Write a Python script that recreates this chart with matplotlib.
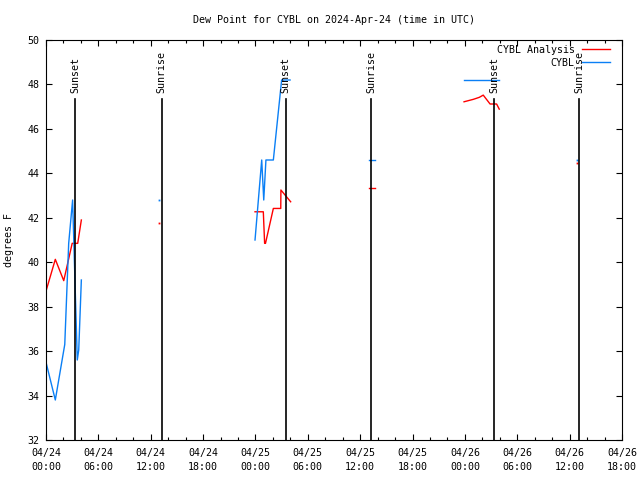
import numpy as np
import pandas as pd
import matplotlib
matplotlib.use("Agg")
import matplotlib.pyplot as plt
import matplotlib.dates as mdates
from matplotlib.lines import Line2D

#--- data (UTC)
analysis_times = ["2024-04-24 00:00", "2024-04-24 01:04", "2024-04-24 02:02", "2024-04-24 03:00",
                  "2024-04-24 03:38", "2024-04-24 04:03",
                  "2024-04-24 13:00",
                  "2024-04-24 23:57", "2024-04-25 00:54", "2024-04-25 01:03", "2024-04-25 01:09",
                  "2024-04-25 02:03", "2024-04-25 02:54", "2024-04-25 02:55", "2024-04-25 04:02",
                  "2024-04-25 13:00", "2024-04-25 13:45",
                  "2024-04-25 23:54", "2024-04-26 00:58", "2024-04-26 01:39", "2024-04-26 02:06",
                  "2024-04-26 02:53", "2024-04-26 03:38", "2024-04-26 03:56",
                  "2024-04-26 12:53"]
analysis_vals = [38.7, 40.13, 39.17, 40.85, 40.85, 41.9,
                 41.78,
                 42.27, 42.27, 40.85, 40.85, 42.42, 42.42, 43.25, 42.72,
                 43.33, 43.33,
                 47.22, 47.33, 47.42, 47.52, 47.12, 47.12, 46.89,
                 44.45]

obs_times = ["2024-04-24 00:00", "2024-04-24 01:04", "2024-04-24 02:09", "2024-04-24 02:36",
             "2024-04-24 03:03", "2024-04-24 03:35", "2024-04-24 03:45", "2024-04-24 04:03",
             "2024-04-24 13:00",
             "2024-04-24 23:57", "2024-04-25 00:43", "2024-04-25 00:57", "2024-04-25 01:12",
             "2024-04-25 02:03", "2024-04-25 03:00", "2024-04-25 03:58",
             "2024-04-25 13:00", "2024-04-25 13:45",
             "2024-04-25 23:54", "2024-04-26 03:56",
             "2024-04-26 12:53"]
obs_vals = [35.5, 33.8, 36.3, 40.85, 42.8, 35.6, 36.05, 39.2,
            42.8,
            41.0, 44.6, 42.8, 44.6, 44.6, 48.2, 48.2,
            44.6, 44.6,
            48.2, 48.2,
            44.6]

event_times = ["2024-04-24 03:20", "2024-04-24 13:16", "2024-04-25 03:27",
               "2024-04-25 13:14", "2024-04-26 03:21", "2024-04-26 13:06"]
event_names = ["Sunset", "Sunrise", "Sunset", "Sunrise", "Sunset", "Sunrise"]

series_names = ["CYBL Analysis", "CYBL"]
series_colors = ["#ff0000", "#0a7ff5"]

x_start, x_end = "2024-04-24 00:00", "2024-04-26 18:00"
y_min, y_max = 32, 50

plt.rcParams["font.family"] = ["DejaVu Sans Mono", "DejaVu Sans"]
plt.rcParams["font.size"] = 7.2


def segments(times, vals, gap_hours=6):
    """split a series wherever samples are further apart than gap_hours"""
    t = pd.to_datetime(times).values
    v = np.array(vals, dtype=float)
    breaks = np.where(np.diff(t) > np.timedelta64(gap_hours, "h"))[0] + 1
    return zip(np.split(t, breaks), np.split(v, breaks))


def plot_series(ax, times, vals, color):
    for ts, vs in segments(times, vals):
        if len(ts) == 1:
            ax.plot(ts, vs, linestyle="none", marker="s", ms=1.3, mew=0, color=color, zorder=2)
        else:
            ax.plot(ts, vs, color=color, lw=1.0, zorder=2)


fig = plt.figure(figsize=(6.4, 4.8), dpi=100)
ax = fig.add_axes([46/640, 40/480, 576/640, 400/480])

plot_series(ax, analysis_times, analysis_vals, series_colors[0])
plot_series(ax, obs_times, obs_vals, series_colors[1])

# sunrise / sunset markers
trans = ax.get_xaxis_transform()
for t, name in zip(pd.to_datetime(event_times), event_names):
    ax.axvline(t, ymin=0, ymax=0.8525, color="black", lw=1.2, zorder=3)
    ax.text(t, 0.868, name, rotation=90, transform=trans, ha="center", va="bottom", zorder=3)

ax.set_xlim(pd.Timestamp(x_start), pd.Timestamp(x_end))
ax.set_ylim(y_min, y_max)
ax.set_yticks(np.arange(y_min, y_max + 1, 2))
ax.xaxis.set_major_locator(mdates.HourLocator(byhour=[0, 6, 12, 18]))
ax.xaxis.set_minor_locator(mdates.HourLocator(byhour=range(0, 24, 2)))
ax.xaxis.set_major_formatter(mdates.DateFormatter("%m/%d\n%H:%M"))
for lab in ax.get_xticklabels():
    lab.set_linespacing(1.45)
ax.tick_params(which="both", direction="in", top=True, right=True, color="black", width=0.8)
ax.tick_params(which="major", length=4.5)
ax.tick_params(which="minor", length=2.5)
ax.tick_params(axis="x", pad=6)
ax.tick_params(axis="y", pad=4.5)
for s in ax.spines.values():
    s.set_linewidth(0.8)

ax.set_title("Dew Point for CYBL on 2024-Apr-24 (time in UTC)", fontsize=7.2, pad=12)
ax.set_ylabel("degrees F")
ax.yaxis.set_label_coords(-0.056, 0.5)

# legend drawn by hand, gnuplot style (text right, sample line after it)
for i, (name, col) in enumerate(zip(series_names, series_colors)):
    yy = 0.976 - i * 0.0335
    ax.text(0.918, yy, name, transform=ax.transAxes, ha="right", va="center")
    ax.add_line(Line2D([0.9306, 0.979], [yy + 0.002, yy + 0.002], transform=ax.transAxes,
                       color=col, lw=1.0, clip_on=False))

plt.savefig("out.png", dpi=100)
